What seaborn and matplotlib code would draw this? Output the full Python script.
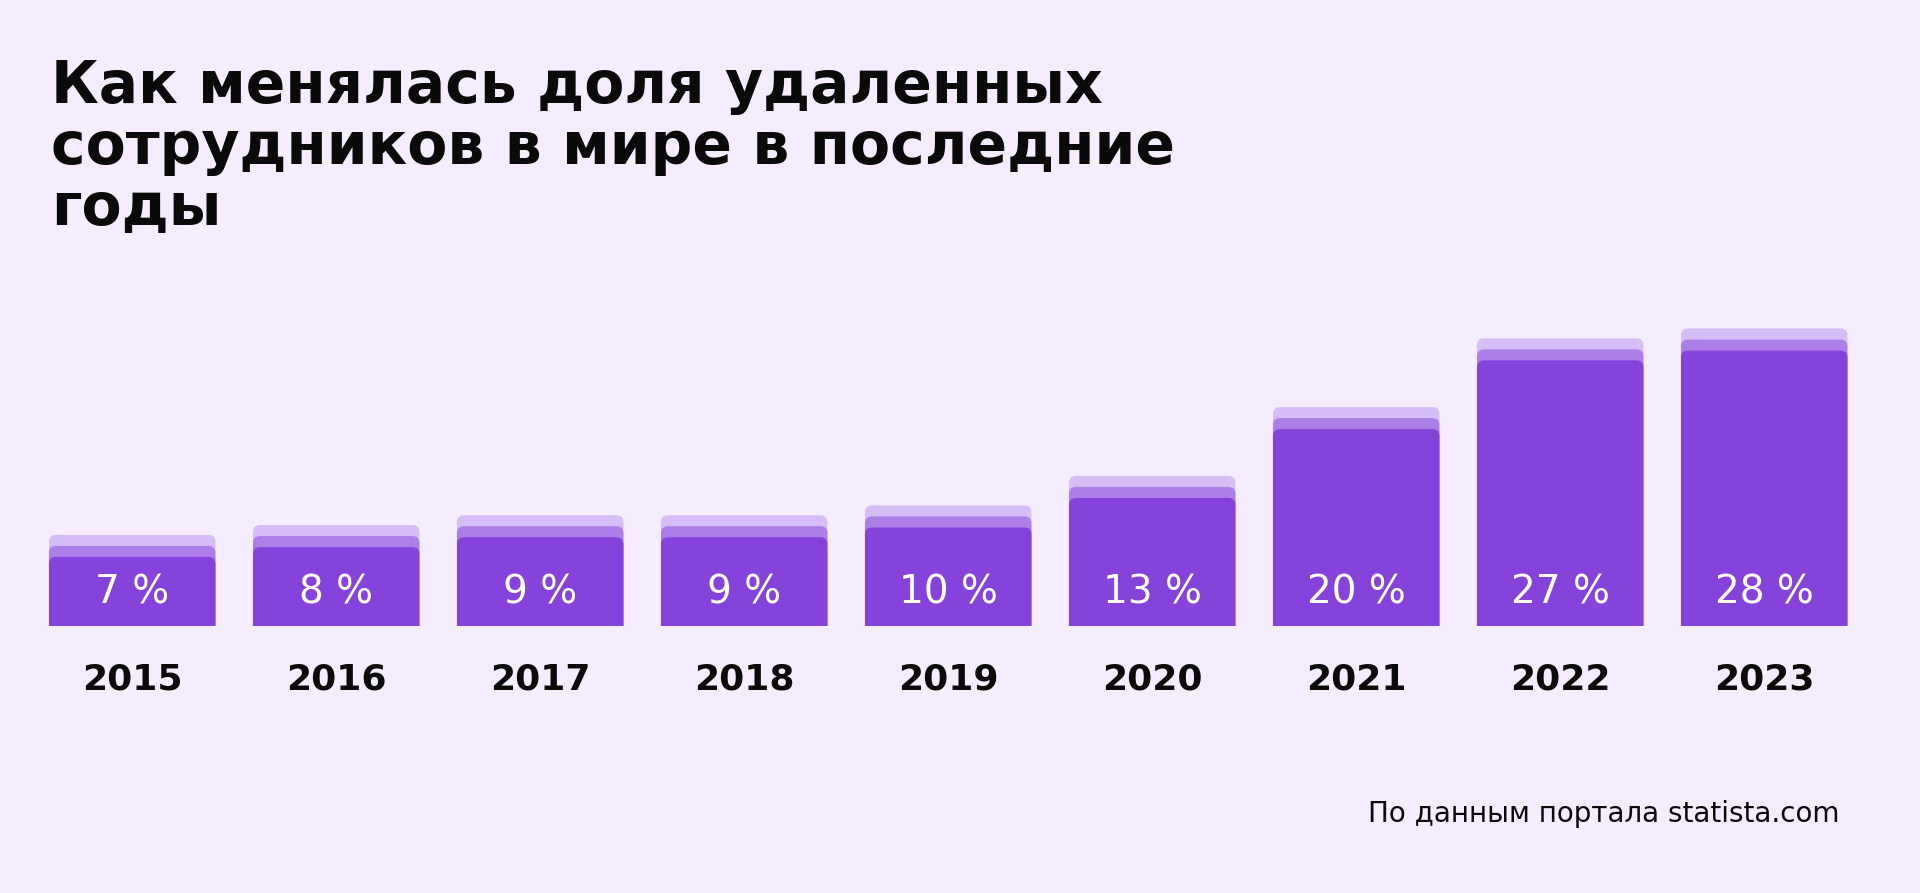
import numpy as np
import pandas as pd
import matplotlib
matplotlib.use("Agg")
import matplotlib.pyplot as plt
import seaborn as sns
from matplotlib.patches import FancyBboxPatch

# ---- data ----
years = ["2015", "2016", "2017", "2018", "2019", "2020", "2021", "2022", "2023"]
shares = [7, 8, 9, 9, 10, 13, 20, 27, 28]
share_labels = ["7 %", "8 %", "9 %", "9 %", "10 %", "13 %", "20 %", "27 %", "28 %"]
title_lines = ["Как менялась доля удаленных",
               "сотрудников в мире в последние",
               "годы"]
source_text = "По данным портала statista.com"

# ---- style ----
BG = "#F5ECFD"
C_MAIN = "#8643DC"
C_MID = "#AC7FE8"
C_LIGHT = "#D6BDF5"
LAYER = 1.12          # visual offset of the stacked "shadow" layers (in % units)
LABEL_Y = 3.35        # vertical position of the value labels (in % units)
RADIUS_PX = 7

sns.set_theme(style="white")
plt.rcParams["font.family"] = ["DejaVu Sans"]

W, H, DPI = 1920, 893, 100
fig = plt.figure(figsize=(W / DPI, H / DPI), dpi=DPI, facecolor=BG)
ax = fig.add_axes([30.2 / W, (H - 625.7) / H, 1836 / W, 344 / H])
ax.set_facecolor(BG)

df = pd.DataFrame({"year": years, "share": shares})
for off, col in [(2 * LAYER, C_LIGHT), (LAYER, C_MID), (0.0, C_MAIN)]:
    sns.barplot(data=df.assign(h=df["share"] + off), x="year", y="h",
                color=col, saturation=1, width=0.816, errorbar=None, ax=ax)

ax.set_xlim(-0.5, 8.5)
ax.set_ylim(0, 35)

# rounded top corners: replace seaborn's rectangles by rounded boxes of same geometry
px_x = (ax.transData.transform((1, 0))[0] - ax.transData.transform((0, 0))[0])
px_y = (ax.transData.transform((0, 1))[1] - ax.transData.transform((0, 0))[1])
r_x = RADIUS_PX / px_x
aspect = (RADIUS_PX / px_y) / r_x
for p in list(ax.patches):
    x0, w, h = p.get_x(), p.get_width(), p.get_height()
    fc = p.get_facecolor()
    p.remove()
    ax.add_patch(FancyBboxPatch((x0, -3), w, h + 3,
                                boxstyle=f"round,pad=0,rounding_size={r_x}",
                                mutation_aspect=aspect, fc=fc, ec="none",
                                clip_on=True))

for i, lab in enumerate(share_labels):
    ax.text(i, LABEL_Y, lab, ha="center", va="center", color="white",
            fontsize=28, fontweight="normal")

ax.set_xlabel("")
ax.set_ylabel("")
ax.set_yticks([])
ax.set_xticks(range(len(years)))
ax.set_xticklabels(years, fontsize=26, fontweight="bold", color="#0A0A0A")
ax.tick_params(axis="x", length=0, pad=26.5)
sns.despine(ax=ax, left=True, bottom=True)

for line, base in zip(title_lines, [103, 164, 225]):
    fig.text(51 / W, 1 - base / H, line, ha="left", va="baseline",
             fontsize=42, fontweight="bold", color="#0A0A0A")

fig.text(1839 / W, 1 - 814 / H, source_text, ha="right", va="center",
         fontsize=20, color="#0A0A0A")

fig.savefig("out.png", dpi=DPI, facecolor=BG)
